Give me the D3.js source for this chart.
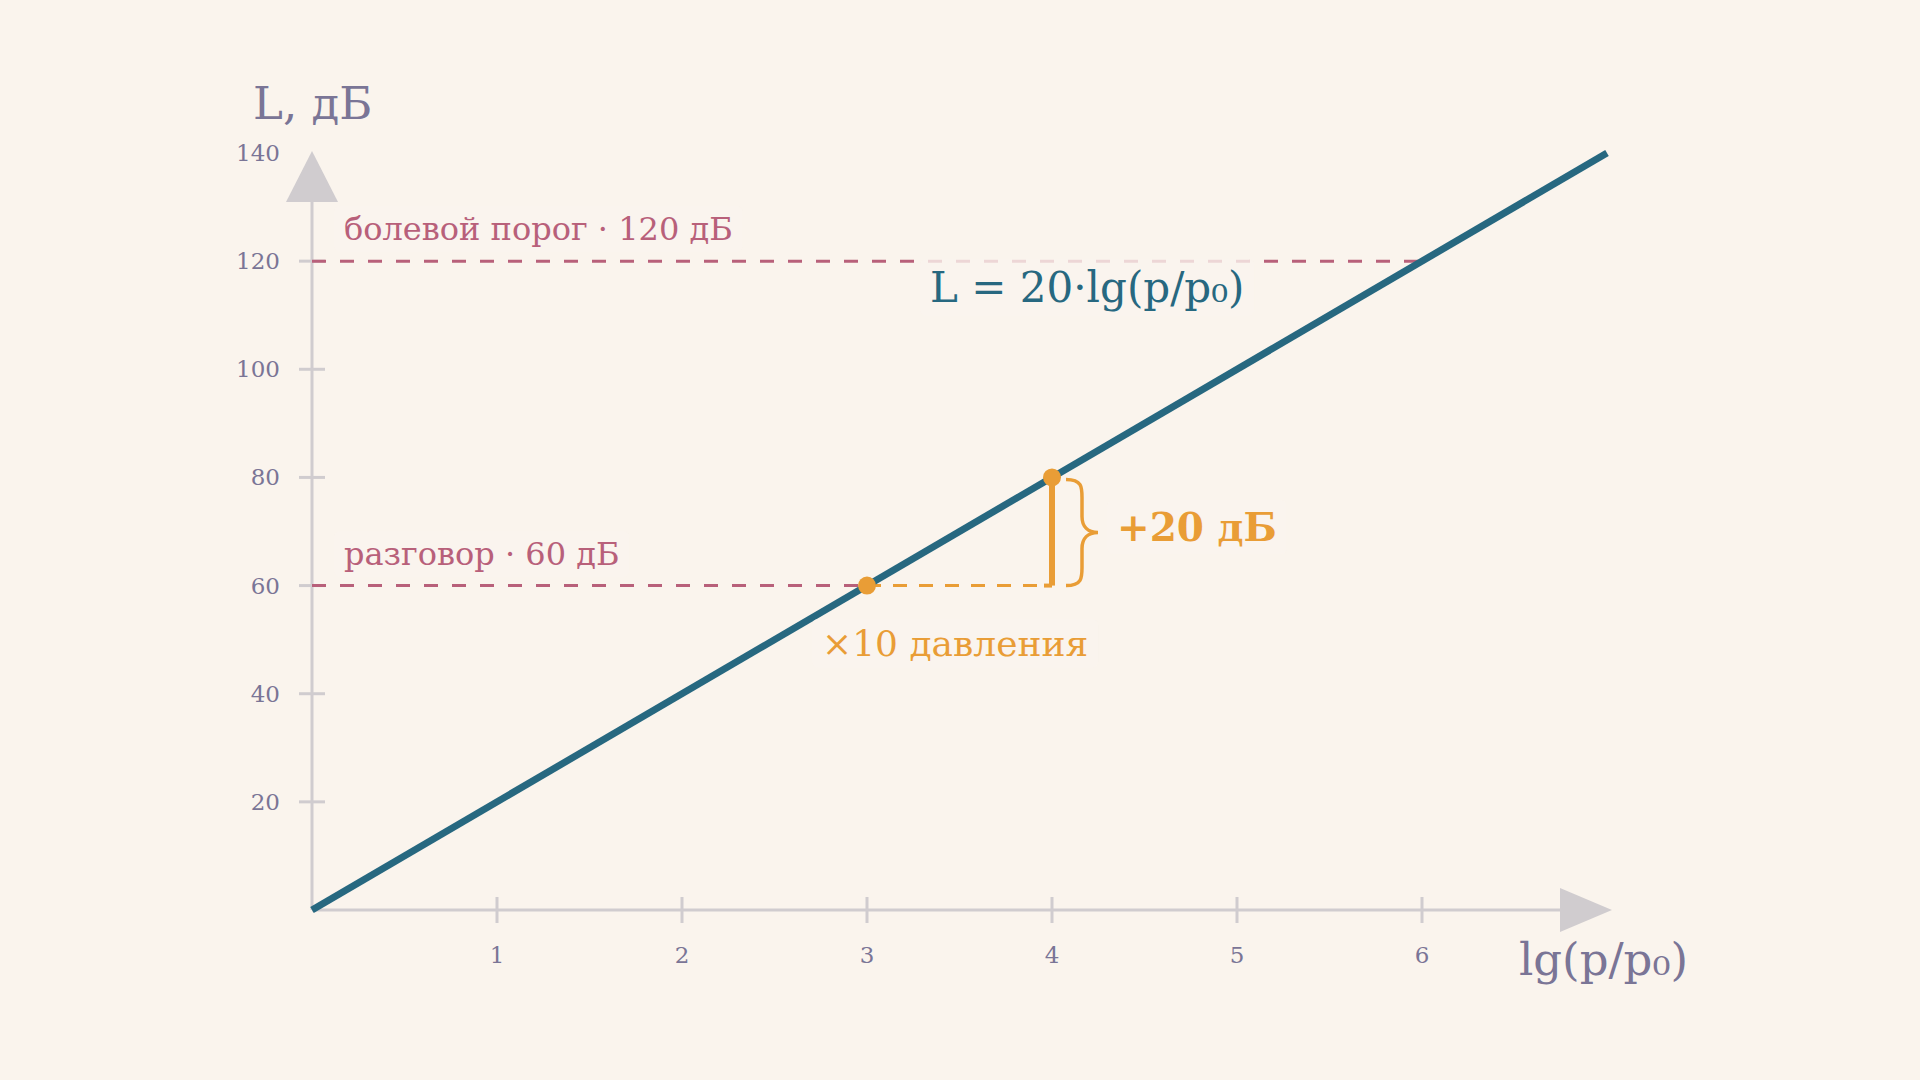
<!DOCTYPE html>
<html><head><meta charset="utf-8">
<script src="https://cdn.jsdelivr.net/npm/d3@7"></script>
<style>body{margin:0;background:#faf4ed}svg{display:block}</style>
</head><body><div id="chart"></div>
<script>
const xTicks = [1, 2, 3, 4, 5, 6];
const yTicks = [20, 40, 60, 80, 100, 120];
const lineX = [0, 7];
const refLines = [
    { level: 120, until: 6, label: "болевой порог · 120 дБ" },
    { level: 60, until: 3, label: "разговор · 60 дБ" }
];
const stepPoints = [{ x: 3, L: 60 }, { x: 4, L: 80 }];

const W = 1920, H = 1080;
const x = d3.scaleLinear().domain([0, 7]).range([312, 1607]);
const y = d3.scaleLinear().domain([0, 140]).range([910, 153]);
const F = "'DejaVu Serif', serif";
const bg = "#faf4ed", axisC = "#d0cccf", textC = "#7a7596";
const pink = "#b8607a", blue = "#276880", orange = "#e99d36";

const svg = d3.select("#chart").append("svg").attr("width", W).attr("height", H);
svg.append("rect").attr("width", W).attr("height", H).attr("fill", bg);

// axes
svg.append("line").attr("x1", x(0)).attr("x2", 1565).attr("y1", y(0)).attr("y2", y(0))
    .attr("stroke", axisC).attr("stroke-width", 3);
svg.append("line").attr("x1", x(0)).attr("x2", x(0)).attr("y1", y(0)).attr("y2", 195)
    .attr("stroke", axisC).attr("stroke-width", 3);
svg.append("path").attr("d", `M${x(0)},151 L${x(0) + 26},202 L${x(0) - 26},202 Z`).attr("fill", axisC);
svg.append("path").attr("d", `M1612,${y(0)} L1560,${y(0) - 22} L1560,${y(0) + 22} Z`).attr("fill", axisC);

svg.selectAll(".yt").data(yTicks).enter().append("line")
    .attr("x1", x(0) - 13).attr("x2", x(0) + 13).attr("y1", d => y(d)).attr("y2", d => y(d))
    .attr("stroke", axisC).attr("stroke-width", 3);
svg.selectAll(".ytl").data(yTicks.concat([140])).enter().append("text")
    .attr("x", 280).attr("y", d => y(d) + 8).attr("text-anchor", "end")
    .attr("font-family", F).attr("font-size", 23).attr("fill", textC).text(d => d);
svg.selectAll(".xt").data(xTicks).enter().append("line")
    .attr("x1", d => x(d)).attr("x2", d => x(d)).attr("y1", y(0) - 13).attr("y2", y(0) + 13)
    .attr("stroke", axisC).attr("stroke-width", 3);
svg.selectAll(".xtl").data(xTicks).enter().append("text")
    .attr("x", d => x(d)).attr("y", 963).attr("text-anchor", "middle")
    .attr("font-family", F).attr("font-size", 23).attr("fill", textC).text(d => d);

svg.append("text").attr("x", 253).attr("y", 119).attr("font-family", F).attr("font-size", 45)
    .attr("fill", textC).text("L, дБ");
svg.append("text").attr("x", 1688).attr("y", 975).attr("text-anchor", "end").attr("font-family", F)
    .attr("font-size", 45).attr("fill", textC).text("lg(p/p₀)");

// reference lines
refLines.forEach(r => {
    svg.append("line").attr("x1", x(0)).attr("x2", x(r.until)).attr("y1", y(r.level)).attr("y2", y(r.level))
        .attr("stroke", pink).attr("stroke-width", 3).attr("stroke-dasharray", "14,14");
});

// orange step
svg.append("line").attr("x1", x(3)).attr("x2", x(4)).attr("y1", y(60)).attr("y2", y(60))
    .attr("stroke", orange).attr("stroke-width", 3).attr("stroke-dasharray", "14,12");
svg.append("line").attr("x1", x(4)).attr("x2", x(4)).attr("y1", y(80)).attr("y2", y(60))
    .attr("stroke", orange).attr("stroke-width", 6);
svg.append("line").attr("x1", x(4) - 8).attr("x2", x(4)).attr("y1", y(60)).attr("y2", y(60))
    .attr("stroke", orange).attr("stroke-width", 4);

// main line
svg.append("path").datum(lineX)
    .attr("d", d3.line().x(d => x(d)).y(d => y(20 * d)))
    .attr("stroke", blue).attr("stroke-width", 7).attr("fill", "none");

svg.selectAll(".dot").data(stepPoints).enter().append("circle")
    .attr("cx", d => x(d.x)).attr("cy", d => y(d.L)).attr("r", 9).attr("fill", orange);

// brace
const bx = x(4) + 14, y0 = y(80) + 2, y1 = y(60), ym = (y0 + y1) / 2;
svg.append("path")
    .attr("d", `M${bx},${y0} C${bx + 16},${y0} ${bx + 16},${y0 + 8} ${bx + 16},${y0 + 18} L${bx + 16},${ym - 16}
        C${bx + 16},${ym - 6} ${bx + 22},${ym} ${bx + 32},${ym}
        C${bx + 22},${ym} ${bx + 16},${ym + 6} ${bx + 16},${ym + 16} L${bx + 16},${y1 - 18}
        C${bx + 16},${y1 - 8} ${bx + 16},${y1} ${bx},${y1}`)
    .attr("fill", "none").attr("stroke", orange).attr("stroke-width", 3.5);

// labels with soft background
function label(tx, ty, txt, size, color, weight) {
    const g = svg.append("g");
    const t = g.append("text").attr("x", tx).attr("y", ty).attr("font-family", F)
        .attr("font-size", size).attr("fill", color).attr("font-weight", weight || "normal").text(txt);
    const b = t.node().getBBox();
    g.insert("rect", "text").attr("x", b.x - 10).attr("y", b.y - 4).attr("width", b.width + 20)
        .attr("height", b.height + 8).attr("rx", 6).attr("fill", bg).attr("opacity", 0.8);
}
label(344, 240, refLines[0].label, 32, pink);
label(344, 565, refLines[1].label, 32, pink);
label(930, 302, "L = 20·lg(p/p₀)", 42, blue);
label(822, 656, "×10 давления", 36, orange);
label(1117, 541, "+20 дБ", 39, orange, "bold");
</script></body></html>
